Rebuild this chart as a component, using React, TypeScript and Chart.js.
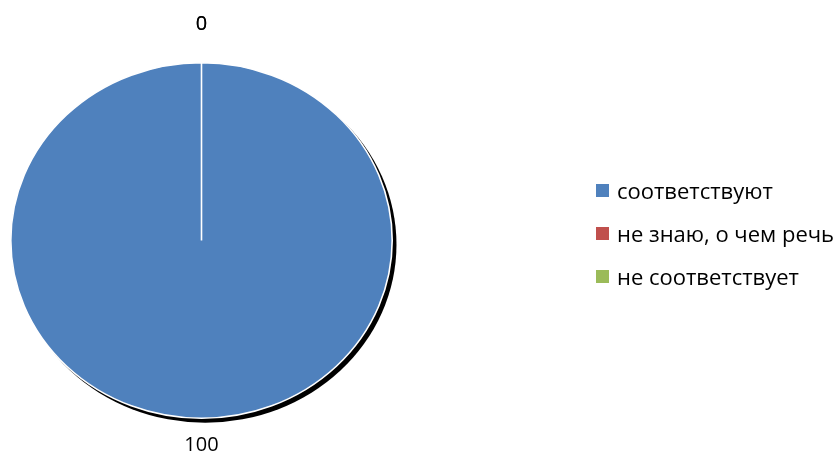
import React, { useEffect, useRef } from "react";
import { Chart, registerables } from "chart.js";

Chart.register(...registerables);

const categories: string[] = ["соответствуют", "не знаю, о чем речь", "не соответствует"];
const values: number[] = [100, 0, 0];
const colors: string[] = ["#4F81BD", "#C0504D", "#9BBB59"];

const FONT = '"Open Sans", "Noto Sans", sans-serif';
const LABEL_FONT_SIZE = 20;
const LEGEND_FONT_SIZE = 22;
const X_STRETCH = 383 / 357;
const LABEL_OFFSETS = [27, 38, 38];

const piePlugin = {
  id: "piePlugin",
  beforeDatasetsDraw(chart: any) {
    const ctx = chart.ctx;
    const arc = chart.getDatasetMeta(0).data[0];
    if (!arc) return;
    const { x, y, outerRadius } = arc.getProps(["x", "y", "outerRadius"], true);
    ctx.save();
    ctx.translate(x, y);
    ctx.scale(X_STRETCH, 1);
    ctx.translate(-x, -y);
    // shadow
    ctx.save();
    ctx.beginPath();
    ctx.arc(x + 3.5, y + 4, outerRadius + 0.5, 0, Math.PI * 2);
    ctx.fillStyle = "#000";
    ctx.filter = "blur(0.6px)";
    ctx.fill();
    ctx.restore();
  },
  afterDatasetsDraw(chart: any) {
    const ctx = chart.ctx;
    ctx.restore();
    const meta = chart.getDatasetMeta(0);
    ctx.save();
    ctx.font = `${LABEL_FONT_SIZE}px ${FONT}`;
    ctx.fillStyle = "#000";
    ctx.textAlign = "center";
    ctx.textBaseline = "middle";
    meta.data.forEach((el: any, i: number) => {
      const { x, y, startAngle, endAngle, outerRadius } = el.getProps(
        ["x", "y", "startAngle", "endAngle", "outerRadius"],
        true
      );
      const mid = (startAngle + endAngle) / 2;
      const r = outerRadius + LABEL_OFFSETS[i];
      const lx = x + Math.cos(mid) * r * X_STRETCH;
      const ly = y + Math.sin(mid) * r;
      ctx.fillText(String(values[i]), lx, ly);
    });
    ctx.restore();
  },
};

export default function App() {
  const ref = useRef<HTMLCanvasElement | null>(null);
  useEffect(() => {
    if (!ref.current) return;
    const chart = new Chart(ref.current, {
      type: "pie",
      data: {
        labels: categories,
        datasets: [
          {
            data: values,
            backgroundColor: colors,
            borderColor: "#FFFFFF",
            borderWidth: 1.5,
          },
        ],
      },
      options: {
        responsive: false,
        animation: false,
        devicePixelRatio: 1,
        layout: { padding: { left: 10, right: 443, top: 62, bottom: 37 } },
        plugins: {
          legend: { display: false },
          tooltip: { enabled: false },
        },
      },
      plugins: [piePlugin],
    });
    return () => chart.destroy();
  }, []);

  return (
    <div style={{ position: "absolute", left: 0, top: 0, width: 836, height: 456, background: "#fff" }}>
      <canvas ref={ref} width={836} height={456} style={{ position: "absolute", left: 0, top: 0 }} />
      <div style={{ position: "absolute", left: 596, top: 169, fontFamily: FONT, fontSize: LEGEND_FONT_SIZE, color: "#000" }}>
        {categories.map((c, i) => (
          <div key={c} style={{ height: 43, display: "flex", alignItems: "center", whiteSpace: "nowrap" }}>
            <span style={{ display: "inline-block", width: 13, height: 13, background: colors[i], marginRight: 8 }} />
            <span style={{ lineHeight: "43px" }}>{c}</span>
          </div>
        ))}
      </div>
    </div>
  );
}
